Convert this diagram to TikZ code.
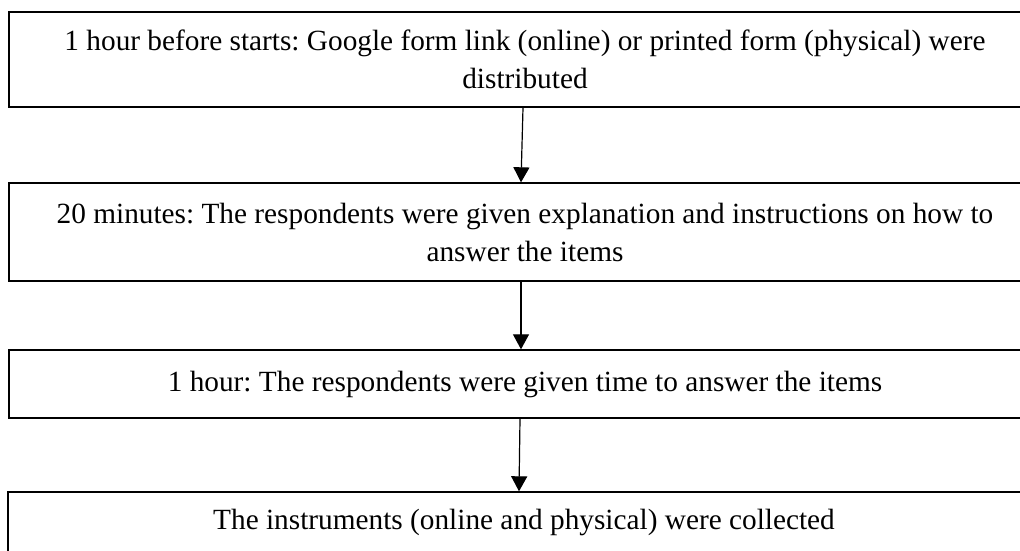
\documentclass[tikz,border=0pt]{standalone}
\usepackage{fontspec}
\setmainfont{Liberation Serif}
\usetikzlibrary{arrows.meta}
\begin{document}
\frenchspacing
\begin{tikzpicture}[x=1pt,y=-1pt,
  stagebox/.style={draw=black,line width=1.4pt,rectangle,minimum width=1032pt,
    align=center,inner sep=0pt,font=\fontsize{29.3}{38}\selectfont},
  flowarrow/.style={draw=black,line width=1.2pt,-{Triangle[width=16pt,length=15pt]}}]
\useasboundingbox (0,0) rectangle (1020,550);
\clip (0,0) rectangle (1020,550);
\fill[white] (0,0) rectangle (1020,550);
\node[stagebox,minimum height=95pt] (b1) at (525,59.5)
  {1 hour before starts: Google form link (online) or printed form (physical) were\\distributed};
\node[stagebox,minimum height=98pt] (b2) at (525,232)
  {20 minutes: The respondents were given explanation and instructions on how to\\answer the items};
\node[stagebox,minimum height=68pt] (b3) at (525,384)
  {1 hour: The respondents were given time to answer the items};
\node[stagebox,minimum height=60pt] (b4) at (524,522)
  {The instruments (online and physical) were collected};
\draw[flowarrow] ([xshift=-2pt]b1.south) -- ([xshift=-4pt]b2.north);
\draw[flowarrow] ([xshift=-4pt]b2.south) -- ([xshift=-4pt]b3.north);
\draw[flowarrow] ([xshift=-5pt]b3.south) -- ([xshift=-5pt]b4.north);
\end{tikzpicture}
\end{document}
